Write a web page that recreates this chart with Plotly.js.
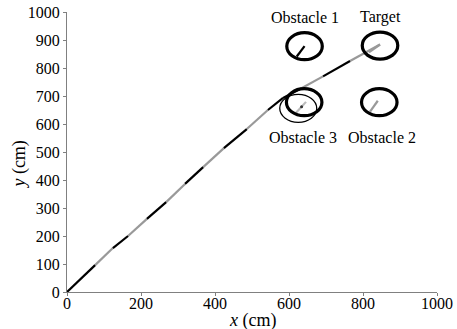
<!DOCTYPE html>
<html>
<head>
<meta charset="utf-8">
<script src="https://cdn.plot.ly/plotly-3.0.1.min.js"></script>
<style>html,body{margin:0;padding:0;background:#fff}#chart{width:457px;height:329px}</style>
</head>
<body>
<div id="chart"></div>
<script>
// Trajectory points (cm)
const pathX = [0, 76, 124, 165, 216, 268, 319, 368, 424, 486, 543, 584, 630, 692, 765, 846];
const pathY = [0, 96, 157, 200, 261, 321, 386, 446, 514, 582, 650, 693, 725, 770, 825, 884];
// colour of each segment i -> i+1 ('k' black, 'g' grey)
const segColors = ['k','g','k','g','k','g','k','g','k','g','k','k','g','k','g'];

// Obstacles / target: name, centre x, centre y, radius
const objNames = ['Obstacle 1', 'Target', 'Obstacle 3', 'Obstacle 2'];
const objX = [642, 846, 641, 844];
const objY = [878, 880, 678, 678];
const objR = [48, 48, 48, 48];
const labelX = [642, 846, 638, 850];
const labelY = [982, 982, 552, 552];

// Heading indicators: [x0, y0, x1, y1]
const headObs1 = [642, 878, 621, 841];
const headObs2 = [840, 683, 819, 644];
const headObs3 = [619, 640, 646, 679];
const headTarget = [846, 884, 816, 856];
const obs3Prev = [625, 656, 50];   // earlier position of obstacle 3 (thin ellipse)
const obs3Dot = [634, 662];

const BLACK = '#000000', GREY = '#999999';
const traces = [];
function segTrace(col) {
  const xs = [], ys = [];
  for (let i = 0; i < segColors.length; i++) {
    if (segColors[i] !== col) continue;
    xs.push(pathX[i], pathX[i+1], null);
    ys.push(pathY[i], pathY[i+1], null);
  }
  return {x: xs, y: ys, mode: 'lines', type: 'scatter', hoverinfo: 'skip',
          line: {color: col === 'k' ? BLACK : GREY, width: 2.2}, showlegend: false};
}
traces.push(segTrace('g'));
traces.push(segTrace('k'));
function lineTrace(h, color) {
  return {x: [h[0], h[2]], y: [h[1], h[3]], mode: 'lines', type: 'scatter',
          line: {color: color, width: 2.2}, showlegend: false, hoverinfo: 'skip'};
}
traces.push(lineTrace(headObs1, BLACK));
traces.push(lineTrace(headObs2, GREY));
traces.push(lineTrace(headObs3, '#bbbbbb'));
traces.push(lineTrace(headTarget, GREY));
traces.push({x: [obs3Dot[0]], y: [obs3Dot[1]], mode: 'markers', type: 'scatter',
             marker: {color: '#333', size: 3}, showlegend: false, hoverinfo: 'skip'});

const shapes = [];
for (let i = 0; i < objNames.length; i++) {
  shapes.push({type: 'circle', xref: 'x', yref: 'y',
    x0: objX[i] - objR[i], x1: objX[i] + objR[i], y0: objY[i] - objR[i], y1: objY[i] + objR[i],
    line: {color: BLACK, width: 3.2}, layer: 'above'});
}
shapes.push({type: 'circle', xref: 'x', yref: 'y',
  x0: obs3Prev[0] - obs3Prev[2], x1: obs3Prev[0] + obs3Prev[2],
  y0: obs3Prev[1] - obs3Prev[2], y1: obs3Prev[1] + obs3Prev[2],
  line: {color: BLACK, width: 1.3}, layer: 'above'});

const FONT = '"Times New Roman", "Liberation Serif", Times, serif';
const annotations = objNames.map((n, i) => ({
  x: labelX[i], y: labelY[i], xref: 'x', yref: 'y', text: n, showarrow: false,
  font: {family: FONT, size: 16, color: '#000'}
}));
// axis titles
annotations.push({xref: 'paper', yref: 'paper', x: 0.5, y: -0.1, yanchor: 'middle',
  xanchor: 'center', text: '<i>x</i> (cm)', showarrow: false, font: {family: FONT, size: 18}});
annotations.push({xref: 'paper', yref: 'paper', x: -0.127, y: 0.455, yanchor: 'middle',
  xanchor: 'center', text: '<i>y</i> (cm)', textangle: -90, showarrow: false,
  font: {family: FONT, size: 18}});

const axisCommon = {
  range: [0, 1000], showgrid: false, zeroline: false, showline: true,
  linecolor: '#808080', linewidth: 1, ticks: 'outside', ticklen: 3, tickcolor: '#808080',
  tickfont: {family: FONT, size: 16, color: '#000'}, fixedrange: true
};
const layout = {
  width: 457, height: 329,
  margin: {l: 67, r: 20, t: 12, b: 37},
  paper_bgcolor: '#fff', plot_bgcolor: '#fff',
  font: {family: FONT, size: 16, color: '#000'},
  xaxis: Object.assign({}, axisCommon, {dtick: 200, tick0: 0, ticklabelstandoff: -6}),
  yaxis: Object.assign({}, axisCommon, {dtick: 100, tick0: 0}),
  shapes: shapes,
  annotations: annotations,
  showlegend: false
};
Plotly.newPlot('chart', traces, layout, {staticPlot: true, displayModeBar: false});
</script>
</body>
</html>
